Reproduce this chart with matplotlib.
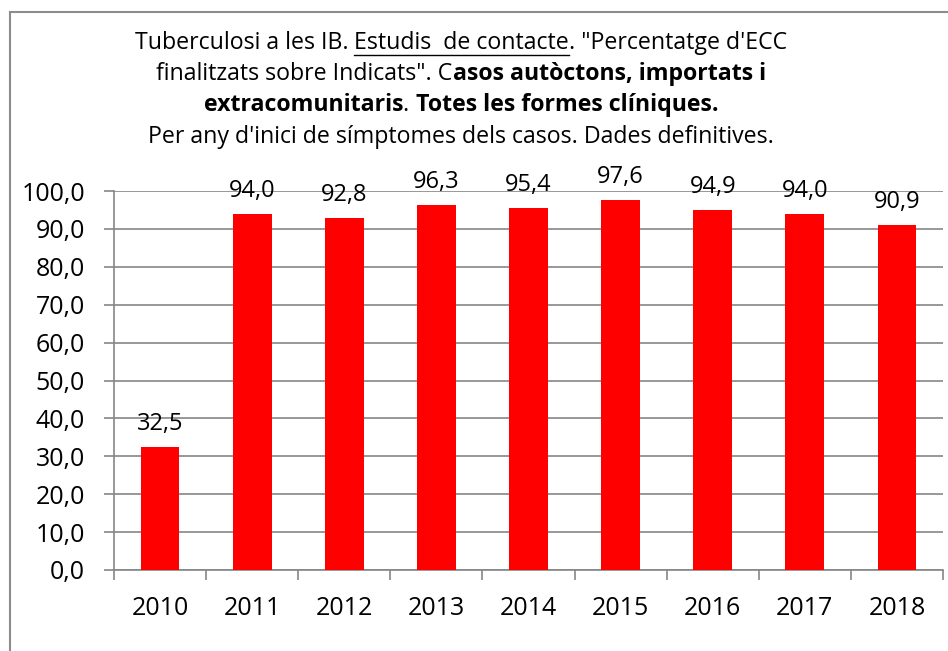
import matplotlib
matplotlib.use("Agg")
import matplotlib.pyplot as plt
from matplotlib import font_manager
from matplotlib.lines import Line2D

years = ["2010", "2011", "2012", "2013", "2014", "2015", "2016", "2017", "2018"]
values = [32.5, 94.0, 92.8, 96.3, 95.4, 97.6, 94.9, 94.0, 90.9]
yticks = [0, 10, 20, 30, 40, 50, 60, 70, 80, 90, 100]

installed = {f.name for f in font_manager.fontManager.ttflist}
title_font = "Liberation Sans Narrow" if "Liberation Sans Narrow" in installed else "Open Sans"
tick_font = "Open Sans" if "Open Sans" in installed else "DejaVu Sans"

W, H = 948, 651
fig = plt.figure(figsize=(W / 100, H / 100), dpi=100)
ax = fig.add_axes([114 / W, 1 - 570 / H, (943 - 114) / W, (570 - 191) / H])

grid_c = "#868686"
x = list(range(len(years)))
ax.bar(x, values, width=0.42, color="#FF0000", zorder=3)
ax.set_xlim(-0.5, len(years) - 0.5)
ax.set_ylim(0, 100)
ax.set_yticks(yticks)
ax.set_yticklabels([f"{v:.1f}".replace(".", ",") for v in yticks],
                   fontname=tick_font, fontsize=18)
ax.set_xticks(x)
ax.set_xticklabels(years, fontname=tick_font, fontsize=18)
ax.set_xticks([i - 0.5 for i in range(len(years) + 1)], minor=True)
ax.tick_params(axis="x", which="major", length=0, pad=19)
ax.tick_params(axis="x", which="minor", length=7, color=grid_c, width=1.2)
ax.tick_params(axis="y", length=7, color=grid_c, width=1.2, pad=14)
ax.yaxis.grid(True, color=grid_c, linewidth=1.2, zorder=0)
for s in ["top", "right"]:
    ax.spines[s].set_visible(False)
for s in ["left", "bottom"]:
    ax.spines[s].set_color(grid_c)
    ax.spines[s].set_linewidth(1.2)

for xi, v in zip(x, values):
    ax.annotate(f"{v:.1f}".replace(".", ","), (xi, v), xytext=(0, 8),
                textcoords="offset points", ha="center", va="bottom",
                fontname=tick_font, fontsize=17, zorder=4)

# outer frame
fig.add_artist(Line2D([10 / W, 10 / W], [0, 1 - 12 / H], color="#8c8c8c", lw=1.5,
                      transform=fig.transFigure))
fig.add_artist(Line2D([10 / W, 1], [1 - 12 / H, 1 - 12 / H], color="#8c8c8c", lw=1.5,
                      transform=fig.transFigure))

# title with mixed formatting
lines = [
    [("Tuberculosi a les IB. ", "normal", False), ("Estudis  de contacte", "normal", True),
     (". \"Percentatge d'ECC", "normal", False)],
    [("finalitzats sobre Indicats\". C", "normal", False),
     ("asos autòctons, importats i", "bold", False)],
    [("extracomunitaris", "bold", False), (". ", "normal", False),
     ("Totes les formes clíniques.", "bold", False)],
    [("Per any d'inici de símptomes dels casos. Dades definitives.", "normal", False)],
]
line_y = [43, 74, 105, 137]
cx = 461
tfs = 16.7
fig.canvas.draw()
renderer = fig.canvas.get_renderer()
for segs, yy in zip(lines, line_y):
    texts = []
    for s, wgt, ul in segs:
        t = fig.text(0, 1 - yy / H, s, fontname=title_font, fontsize=tfs,
                     fontweight=wgt, va="center", ha="left")
        texts.append((t, ul))
    widths = [t.get_window_extent(renderer).width for t, _ in texts]
    total = sum(widths)
    x0 = cx - total / 2
    for (t, ul), w in zip(texts, widths):
        t.set_x(x0 / W)
        if ul:
            uy = 1 - (yy + 12) / H
            fig.add_artist(Line2D([x0 / W, (x0 + w) / W], [uy, uy], color="black",
                                  lw=1.0, transform=fig.transFigure))
        x0 += w

fig.savefig("out.png", dpi=100)
